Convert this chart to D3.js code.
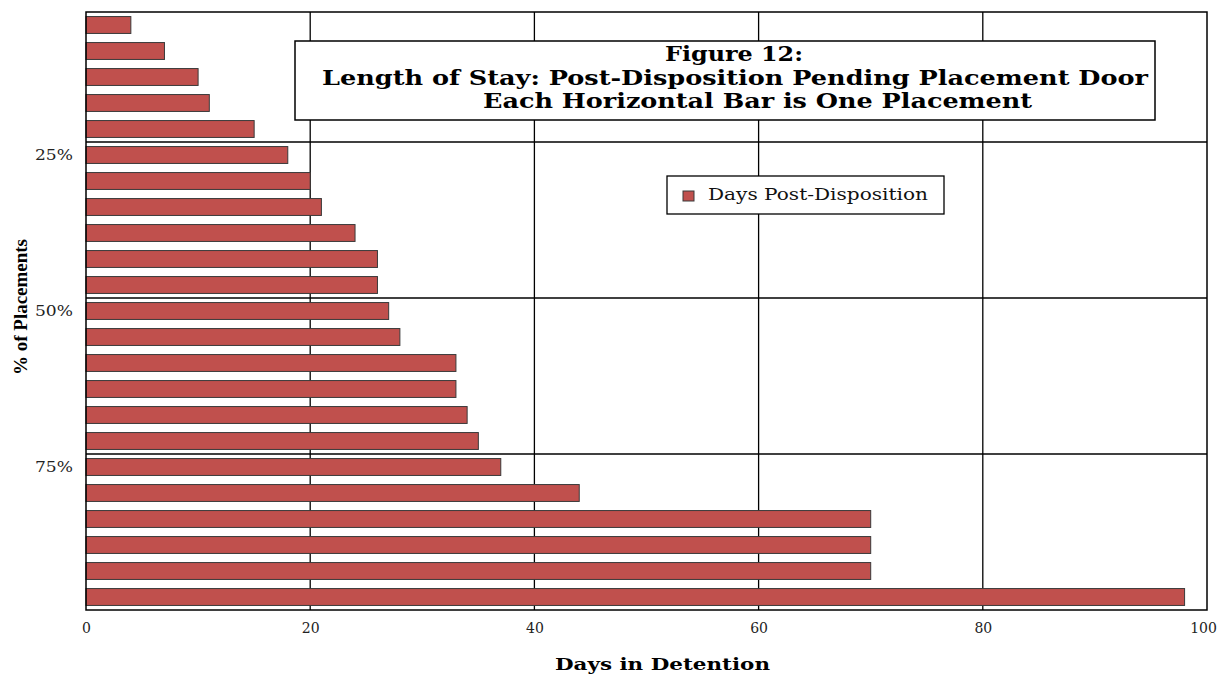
<!DOCTYPE html>
<html><head><meta charset="utf-8">
<script src="https://cdn.jsdelivr.net/npm/d3@7"></script>
<style>body{margin:0;background:#fff}svg{display:block}</style>
</head><body>
<script>
const categories = d3.range(1, 24).map(String);
const days = [4,7,10,11,15,18,20,21,24,26,26,27,28,33,33,34,35,37,44,70,70,70,98];
const yTickLabels = [{idx:5,label:"25%"},{idx:11,label:"50%"},{idx:17,label:"75%"}];
const gridAfter = [5,11,17];
const xTicks = [0,20,40,60,80,100];
const titleLines = ["Figure 12:","Length of Stay: Post-Disposition Pending Placement Door","Each Horizontal Bar is One Placement"];
const seriesName = "Days Post-Disposition";

const W=1217,H=677;
const m={l:86,t:12};
const right=1207,bottom=610;
const svg=d3.select("body").append("svg").attr("width",W).attr("height",H);
const x=d3.scaleLinear().domain([0,100]).range([m.l,right]);
const y=d3.scaleBand().domain(categories).range([m.t,bottom]).paddingInner(0.35).paddingOuter(0.175);
const step=y.step();
const goudy="'DejaVu Serif', serif";
const times="'Liberation Serif', serif";

// vertical gridlines
svg.append("g").selectAll("line").data(xTicks.filter(d=>d>0&&d<100)).join("line")
  .attr("x1",d=>x(d)).attr("x2",d=>x(d)).attr("y1",m.t).attr("y2",bottom)
  .attr("stroke","#000").attr("stroke-width",1.3);
// horizontal gridlines
svg.append("g").selectAll("line").data(gridAfter).join("line")
  .attr("x1",m.l).attr("x2",right)
  .attr("y1",d=>m.t+d*step).attr("y2",d=>m.t+d*step)
  .attr("stroke","#000").attr("stroke-width",1.3);

// bars
svg.append("g").selectAll("rect").data(days).join("rect")
  .attr("x",x(0)).attr("y",(d,i)=>y(categories[i]))
  .attr("width",d=>x(d)-x(0)).attr("height",y.bandwidth())
  .attr("fill","#c0504d").attr("stroke","#3a3a3a").attr("stroke-width",1);

// plot border
svg.append("rect").attr("x",m.l).attr("y",m.t).attr("width",right-m.l).attr("height",bottom-m.t)
  .attr("fill","none").attr("stroke","#000").attr("stroke-width",1.5);

// x axis labels
const xAxis=svg.append("g").attr("transform","translate(0,"+bottom+")")
  .call(d3.axisBottom(x).tickValues(xTicks).tickSize(0).tickPadding(13).tickFormat(d3.format("d")));
xAxis.select(".domain").remove();
xAxis.selectAll("text").attr("font-family",goudy).attr("font-size",14).attr("fill","#222")
  .attr("dx",d=>d===100?-4:0);

// y labels
svg.append("g").selectAll("text").data(yTickLabels).join("text")
  .attr("x",73).attr("y",d=>y(categories[d.idx])+y.bandwidth()/2)
  .attr("dy","0.35em").attr("text-anchor","end")
  .attr("font-family",goudy).attr("font-size",14).attr("fill","#222")
  .attr("textLength",38).attr("lengthAdjust","spacingAndGlyphs").text(d=>d.label);

// axis titles
svg.append("text").attr("x",555).attr("y",670)
  .attr("font-family",goudy).attr("font-weight","bold").attr("font-size",17)
  .attr("textLength",215).attr("lengthAdjust","spacingAndGlyphs")
  .text("Days in Detention");
svg.append("text").attr("transform","translate(27,307) rotate(-90)").attr("text-anchor","middle")
  .attr("font-family",times).attr("font-weight","bold").attr("font-size",18)
  .attr("textLength",136).attr("lengthAdjust","spacingAndGlyphs")
  .text("% of Placements");

// title box
svg.append("rect").attr("x",295).attr("y",41).attr("width",860).attr("height",79)
  .attr("fill","#fff").attr("stroke","#000").attr("stroke-width",1.5);
const titlePos=[{x:665,y:61,w:138},{x:322,y:85,w:826},{x:483,y:108,w:549}];
svg.append("g").selectAll("text").data(titleLines).join("text")
  .attr("x",(d,i)=>titlePos[i].x).attr("y",(d,i)=>titlePos[i].y)
  .attr("textLength",(d,i)=>titlePos[i].w).attr("lengthAdjust","spacingAndGlyphs")
  .attr("font-family",goudy).attr("font-weight","bold").attr("font-size",20)
  .text(d=>d);

// legend
svg.append("rect").attr("x",667).attr("y",176).attr("width",277).attr("height",38)
  .attr("fill","#fff").attr("stroke","#000").attr("stroke-width",1.3);
svg.append("rect").attr("x",683).attr("y",191).attr("width",11).attr("height",10)
  .attr("fill","#c0504d").attr("stroke","#3a3a3a").attr("stroke-width",1);
svg.append("text").attr("x",708).attr("y",200)
  .attr("font-family",goudy).attr("font-size",17).attr("fill","#111")
  .attr("textLength",220).attr("lengthAdjust","spacingAndGlyphs").text(seriesName);
</script>
</body></html>
